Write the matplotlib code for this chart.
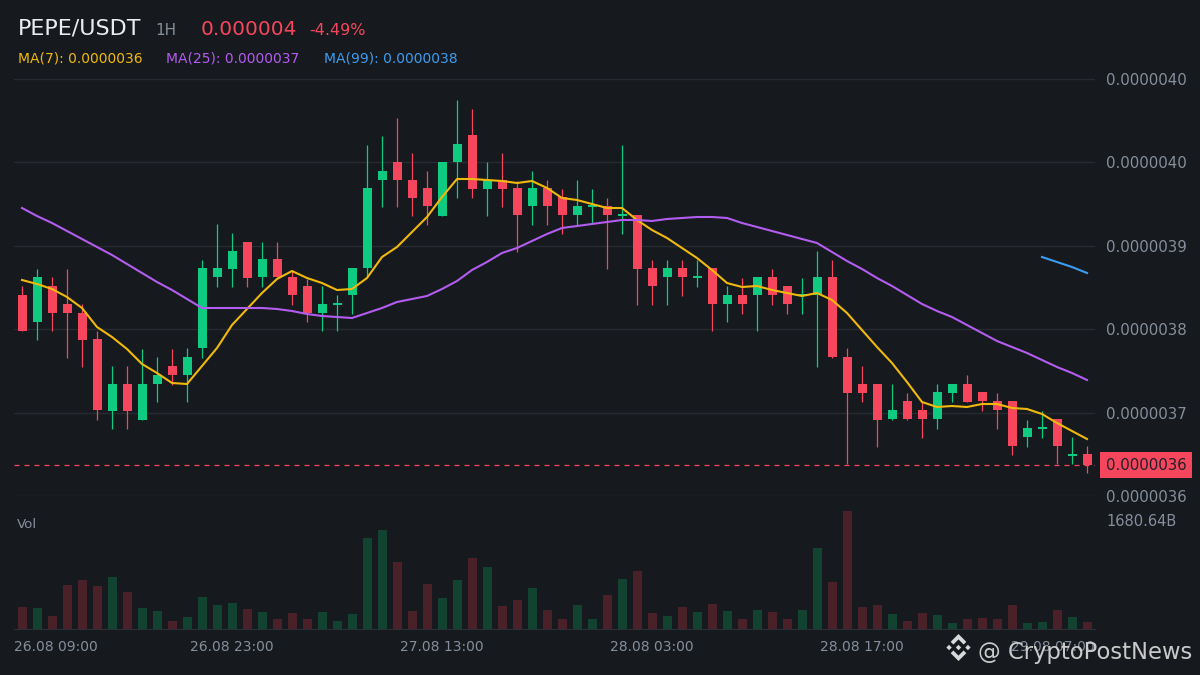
import numpy as np
import matplotlib.pyplot as plt
import matplotlib.transforms as mtransforms
from matplotlib.patches import Polygon

# PEPE/USDT 1H candles, prices in units of 1e-9 USDT
opens = [3819, 3792, 3828, 3810, 3801, 3775, 3703, 3730, 3694, 3730,
         3748, 3739, 3766, 3837, 3845, 3872, 3837, 3855, 3837, 3828,
         3801, 3809, 3819, 3846, 3934, 3952, 3934, 3926, 3898, 3952,
         3979, 3925, 3934, 3926, 3908, 3926, 3917, 3899, 3907, 3908,
         3898, 3899, 3846, 3837, 3846, 3836, 3846, 3810, 3819, 3819,
         3837, 3828, 3818, 3819, 3837, 3757, 3730, 3730, 3695, 3713,
         3704, 3695, 3721, 3730, 3722, 3713, 3713, 3677, 3685, 3695,
         3658, 3660]
highs = [3828, 3845, 3837, 3845, 3810, 3783, 3748, 3748, 3765, 3757,
         3765, 3766, 3854, 3890, 3881, 3872, 3872, 3872, 3844, 3835,
         3828, 3819, 3846, 3969, 3978, 3996, 3961, 3943, 3952, 4014,
         4005, 3952, 3961, 3933, 3943, 3934, 3925, 3934, 3925, 3916,
         3969, 3899, 3854, 3854, 3854, 3854, 3846, 3828, 3836, 3837,
         3845, 3828, 3836, 3863, 3854, 3766, 3748, 3730, 3730, 3721,
         3712, 3730, 3730, 3739, 3722, 3721, 3713, 3694, 3703, 3695,
         3677, 3668]
lows = [3783, 3774, 3783, 3756, 3747, 3694, 3685, 3685, 3694, 3712,
        3729, 3712, 3756, 3827, 3827, 3827, 3827, 3837, 3809, 3792,
        3783, 3783, 3800, 3837, 3907, 3907, 3898, 3889, 3898, 3916,
        3916, 3898, 3907, 3862, 3889, 3889, 3880, 3889, 3891, 3845,
        3880, 3809, 3809, 3809, 3818, 3827, 3783, 3792, 3800, 3783,
        3809, 3800, 3800, 3747, 3756, 3650, 3712, 3667, 3694, 3694,
        3676, 3685, 3712, 3712, 3703, 3685, 3659, 3667, 3676, 3650,
        3650, 3641]
closes = [3783, 3837, 3801, 3801, 3774, 3704, 3730, 3703, 3730, 3739,
          3739, 3757, 3846, 3846, 3863, 3836, 3855, 3837, 3819, 3801,
          3810, 3810, 3846, 3926, 3943, 3934, 3916, 3908, 3952, 3970,
          3925, 3934, 3925, 3899, 3926, 3908, 3899, 3908, 3908, 3899,
          3899, 3845, 3828, 3846, 3837, 3837, 3810, 3819, 3810, 3837,
          3819, 3810, 3819, 3837, 3757, 3721, 3721, 3694, 3704, 3695,
          3695, 3722, 3730, 3712, 3713, 3704, 3668, 3686, 3686, 3668,
          3659, 3649]

# moving averages as drawn on the chart
ma7 = [3834, 3830, 3825, 3817, 3806, 3787, 3777, 3765, 3750, 3741,
       3731, 3730, 3748, 3766, 3789, 3805, 3821, 3835, 3843, 3836,
       3831, 3824, 3825, 3836, 3857, 3867, 3882, 3897, 3917, 3935,
       3935, 3934, 3933, 3931, 3933, 3926, 3916, 3914, 3910, 3906,
       3906, 3894, 3884, 3876, 3866, 3856, 3844, 3831, 3827, 3828,
       3824, 3821, 3818, 3821, 3814, 3801, 3784, 3767, 3751, 3732,
       3712, 3707, 3708, 3707, 3710, 3710, 3706, 3705, 3700, 3691,
       3683, 3675]
ma25 = [3906, 3898, 3891, 3883, 3875, 3867, 3859, 3850, 3841, 3832,
        3824, 3815, 3806, 3806, 3806, 3806, 3806, 3805, 3803, 3800,
        3798, 3797, 3796, 3801, 3806, 3812, 3815, 3818, 3825, 3833,
        3844, 3852, 3861, 3866, 3873, 3880, 3886, 3888, 3890, 3892,
        3894, 3894, 3893, 3895, 3896, 3897, 3897, 3896, 3891, 3887,
        3883, 3879, 3875, 3871, 3862, 3853, 3845, 3836, 3828, 3819,
        3810, 3803, 3797, 3789, 3781, 3773, 3767, 3761, 3754, 3747,
        3741, 3734]
ma99 = [3857, 3852, 3847, 3841]  # only the last four candles have it

# volume in billions
volume = [342, 327, 202, 685, 762, 669, 809, 576, 327, 280,
          124, 187, 498, 373, 405, 311, 265, 156, 249, 156,
          265, 124, 233, 1416, 1540, 1043, 280, 700, 482, 762,
          1105, 965, 358, 451, 638, 296, 156, 373, 156, 529,
          778, 902, 249, 202, 342, 265, 389, 280, 156, 296,
          265, 156, 296, 1260, 731, 1836, 342, 373, 233, 124,
          249, 218, 93, 156, 171, 156, 373, 93, 109, 296,
          187, 109]

price_ticks = [4035, 3951.6, 3868.2, 3784.8, 3701.4, 3618]
price_labels = ["0.0000040", "0.0000040", "0.0000039", "0.0000038", "0.0000037", "0.0000036"]
time_idx = [0, 14, 28, 42, 56, 70]
time_labels = ["26.08 09:00", "26.08 23:00", "27.08 13:00", "28.08 03:00", "28.08 17:00", "29.08 07:00"]

BG = "#161a1e"
GRID = "#262a31"
GREY = "#848e9c"
GREEN = "#0ecb81"
RED = "#f6465d"
VGREEN = "#124331"
VRED = "#4a2029"
YELLOW = "#f0b90b"
PURPLE = "#b35cf0"
BLUE = "#3d9cf0"

W, H = 1200, 675
fig = plt.figure(figsize=(12, 6.75), dpi=100, facecolor=BG)

def px_box(x0, y0, x1, y1):
    return [x0 / W, 1 - y1 / H, (x1 - x0) / W, (y1 - y0) / H]

x = np.arange(len(closes))
o = np.array(opens)
c = np.array(closes)
up = c >= o
xlim = (-8 / 15, 1073 / 15)

# price panel
ax = fig.add_axes(px_box(14, 70, 1095, 496))
ax.set_facecolor(BG)
ax.set_xlim(*xlim)
ax.set_ylim(3618, 4044)
for s in ax.spines.values():
    s.set_visible(False)
ax.set_yticks(price_ticks, price_labels)
ax.yaxis.tick_right()
ax.tick_params(axis="y", length=0, pad=8, labelsize=10.8, labelcolor=GREY)
ax.set_xticks([])
ax.grid(axis="y", color=GRID, lw=1)
ax.set_axisbelow(True)

cols = np.where(up, GREEN, RED)
ax.vlines(x, lows, highs, colors=cols, lw=0.9, zorder=2)
body_lo = np.minimum(o, c)
body_h = np.maximum(np.abs(c - o), 2)
ax.bar(x, body_h, bottom=body_lo, width=0.6, color=cols, zorder=3)

ax.plot(x, ma7, color=YELLOW, lw=1.5, zorder=4)
ax.plot(x, ma25, color=PURPLE, lw=1.5, zorder=4)
ax.plot(x[-len(ma99):], ma99, color=BLUE, lw=1.5, zorder=4)

last = closes[-1]
ax.axhline(last, color=RED, lw=0.9, ls=(0, (4, 4)), zorder=1)
trans = mtransforms.blended_transform_factory(ax.transAxes, ax.transData)
ax.text(1 + 11 / 1081, last, "0.0000036", transform=trans, ha="left", va="center",
        fontsize=10.8, color="#1e2026",
        bbox=dict(boxstyle="square,pad=0.38", fc=RED, ec="none"))

# volume panel
vax = fig.add_axes(px_box(14, 510, 1095, 629))
vax.set_facecolor(BG)
vax.set_xlim(*xlim)
vax.set_ylim(0, 1852)
for s in vax.spines.values():
    s.set_visible(False)
vax.spines["bottom"].set_visible(True)
vax.spines["bottom"].set_color("#2b2f36")
vax.set_xticks([])
vax.set_yticks([])
vax.bar(x, volume, width=0.6, color=np.where(up, VGREEN, VRED))

tx = mtransforms.blended_transform_factory(vax.transData, vax.transAxes)
for i, (ti, lab) in enumerate(zip(time_idx, time_labels)):
    if i == 0:
        vax.text(0, -0.185, lab, transform=vax.transAxes, ha="left", va="baseline",
                 fontsize=10, color=GREY)
    elif i == len(time_idx) - 1:
        vax.text(1, -0.185, lab, transform=vax.transAxes, ha="right", va="baseline",
                 fontsize=10, color=GREY)
    else:
        vax.text(ti, -0.185, lab, transform=tx, ha="center", va="baseline",
                 fontsize=10, color=GREY)

# overlay in pixel coordinates for header and watermark
ov = fig.add_axes([0, 0, 1, 1])
ov.set_xlim(0, W)
ov.set_ylim(H, 0)
ov.axis("off")
ov.set_zorder(10)

ov.text(18, 35, "PEPE/USDT", fontsize=16, color="#eaecef", va="baseline")
ov.text(155, 35, "1H", fontsize=11, color=GREY, va="baseline")
ov.text(201, 35, "0.000004", fontsize=14.5, color=RED, va="baseline")
ov.text(309, 35, "-4.49%", fontsize=11.5, color=RED, va="baseline")
ov.text(18, 62, "MA(7): 0.0000036", fontsize=10, color=YELLOW, va="baseline")
ov.text(166, 62, "MA(25): 0.0000037", fontsize=10, color=PURPLE, va="baseline")
ov.text(324, 62, "MA(99): 0.0000038", fontsize=10, color=BLUE, va="baseline")
ov.text(17, 528, "Vol", fontsize=9.6, color=GREY, va="baseline")
ov.text(1106, 526, "1680.64B", fontsize=10.5, color=GREY, va="baseline")

# watermark with Binance-style logo
cx, cy, s = 958.5, 647.5, 13.5
logo = [
    [(0, 0.2), (0.2, 0), (0, -0.2), (-0.2, 0)],
    [(0.7, 0.2), (0.9, 0), (0.7, -0.2), (0.5, 0)],
    [(-0.7, 0.2), (-0.5, 0), (-0.7, -0.2), (-0.9, 0)],
    [(0, 1), (0.58, 0.42), (0.38, 0.22), (0, 0.6), (-0.38, 0.22), (-0.58, 0.42)],
    [(0, -1), (0.58, -0.42), (0.38, -0.22), (0, -0.6), (-0.38, -0.22), (-0.58, -0.42)],
]
for pts in logo:
    ov.add_patch(Polygon([(cx + s * px, cy - s * py) for px, py in pts],
                         closed=True, fc="#d9d9d9", ec="none"))
ov.text(978, 659, "@ CryptoPostNews", fontsize=16.3, color="#d4d4d4", va="baseline", alpha=0.95)

fig.savefig("out.png", dpi=100, facecolor=BG)
